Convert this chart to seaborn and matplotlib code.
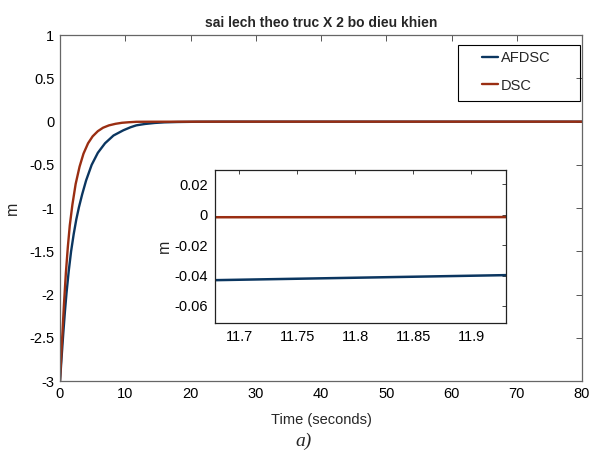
import numpy as np
import pandas as pd
import matplotlib
matplotlib.use("Agg")
import matplotlib.pyplot as plt
from matplotlib.patches import Rectangle
import seaborn as sns

# Tracking error along the X axis for the two controllers
t_afdsc = [0, 0.25, 0.5, 0.75, 1.0, 1.35, 1.7, 2.1, 2.5, 2.9, 3.4, 4.0, 4.85,
           5.8, 6.9, 8.2, 9.7, 10.8, 11.68, 11.93, 13.0, 14.5, 16.0, 18.0,
           21.0, 25.0, 80.0]
e_afdsc = [-3.0, -2.72, -2.45, -2.2, -1.98, -1.72, -1.5, -1.3, -1.13, -0.99,
           -0.84, -0.68, -0.5, -0.36, -0.25, -0.16, -0.10, -0.065, -0.043,
           -0.0397, -0.027, -0.015, -0.008, -0.004, -0.001, 0.0, 0.0]

t_dsc = [0, 0.3, 0.6, 0.9, 1.2, 1.5, 1.9, 2.4, 3.0, 3.6, 4.3, 5.0, 5.8, 6.6,
         7.5, 8.5, 9.5, 10.5, 11.68, 11.93, 14.0, 18.0, 24.0, 80.0]
e_dsc = [-3.0, -2.55, -2.12, -1.75, -1.45, -1.2, -0.96, -0.72, -0.52, -0.37,
         -0.25, -0.17, -0.11, -0.07, -0.043, -0.025, -0.013, -0.007, -0.0016,
         -0.0015, -0.0008, -0.0003, 0.0, 0.0]

series_names = ["AFDSC", "DSC"]
series_colors = ["#0b3660", "#9a2e12"]

main_xticks = [0, 10, 20, 30, 40, 50, 60, 70, 80]
main_yticks = [-3, -2.5, -2, -1.5, -1, -0.5, 0, 0.5, 1]
inset_xticks = [11.7, 11.75, 11.8, 11.85, 11.9]
inset_yticks = [-0.06, -0.04, -0.02, 0, 0.02]

df = pd.concat([
    pd.DataFrame({"t": t_afdsc, "e": e_afdsc, "ctrl": series_names[0]}),
    pd.DataFrame({"t": t_dsc, "e": e_dsc, "ctrl": series_names[1]}),
], ignore_index=True)

sns.set_theme(style="white")
plt.rcParams["font.family"] = ["Liberation Sans", "DejaVu Sans"]
plt.rcParams["axes.unicode_minus"] = False

fig = plt.figure(figsize=(5.97, 4.51), dpi=100)
ax = fig.add_axes([0.1005, 0.155, 0.8744, 0.767])

palette = dict(zip(series_names, series_colors))
sns.lineplot(data=df, x="t", y="e", hue="ctrl", palette=palette, ax=ax,
             linewidth=1.7, sort=False, estimator=None)

ax.set_xlim(0, 80)
ax.set_ylim(-3, 1)
ax.set_xticks(main_xticks)
ax.set_yticks(main_yticks)
ax.set_xticklabels([f"{v:g}" for v in main_xticks])
ax.set_yticklabels([f"{v:g}" for v in main_yticks])
ax.tick_params(direction="in", length=4, width=0.7, labelsize=10.5,
               top=True, right=True, colors="#555555", labelcolor="black",
               pad=4)
for s in ax.spines.values():
    s.set_color("#666666")
    s.set_linewidth(0.9)
ax.set_xlabel("Time (seconds)", fontsize=10.5, labelpad=9)
ax.set_ylabel("m", fontsize=11.5)
ax.yaxis.set_label_coords(-0.077, 0.5)
ax.set_title("sai lech theo truc X 2 bo dieu khien", fontsize=10,
             fontweight="bold", pad=6)

# Legend with a boxed frame drawn separately
leg = ax.legend(title=None, loc="upper left",
                bbox_to_anchor=(0.808, 0.955), fontsize=10.5,
                frameon=False, handlelength=1.1, handletextpad=0.2,
                labelspacing=0.95, borderpad=0.0, borderaxespad=0.0)
ax.add_patch(Rectangle((0.762, 0.809), 0.234, 0.162, transform=ax.transAxes,
                       fill=False, edgecolor="black", linewidth=0.8,
                       zorder=5))

# Zoomed view around t = 11.8 s
axin = fig.add_axes([0.360, 0.2845, 0.4874, 0.3386])
sns.lineplot(data=df, x="t", y="e", hue="ctrl", palette=palette, ax=axin,
             linewidth=1.8, sort=False, estimator=None, legend=False)
axin.set_xlim(11.679, 11.930)
axin.set_ylim(-0.071, 0.0295)
axin.set_xticks(inset_xticks)
axin.set_yticks(inset_yticks)
axin.set_xticklabels([f"{v:g}" for v in inset_xticks])
axin.set_yticklabels([f"{v:g}" for v in inset_yticks])
axin.tick_params(direction="in", length=3, width=0.7, labelsize=10.5,
                 top=True, right=True, colors="#444444", labelcolor="black",
                 pad=5)
for s in axin.spines.values():
    s.set_color("#222222")
    s.set_linewidth(0.9)
axin.set_xlabel("")
axin.set_ylabel("m", fontsize=11.5, labelpad=2)

fig.text(0.508, 0.022, "a)", fontsize=14, fontstyle="italic",
         family=["Liberation Serif", "DejaVu Serif"], ha="center",
         va="center")

fig.savefig("out.png", dpi=100, facecolor="white")
